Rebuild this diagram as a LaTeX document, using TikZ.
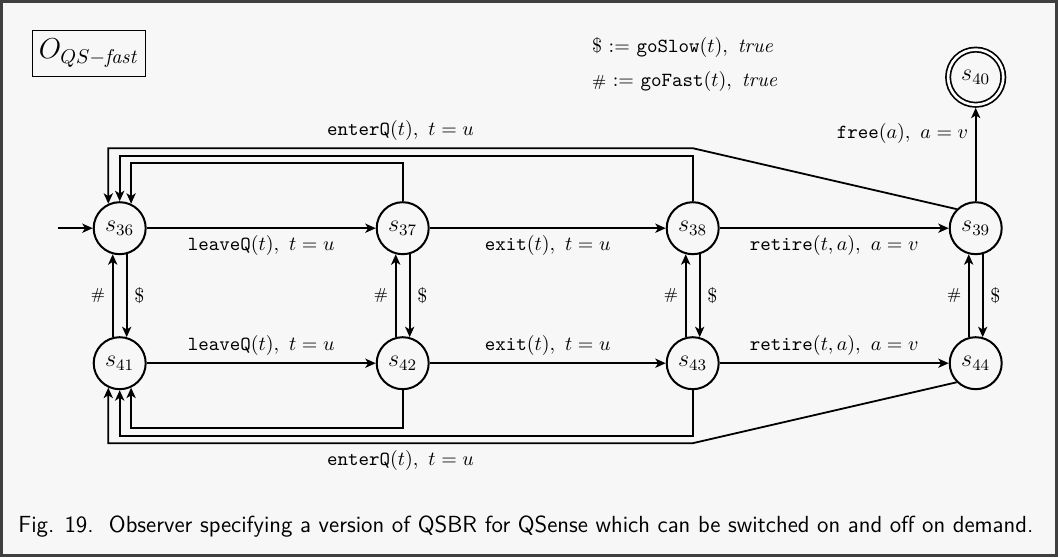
\documentclass[tikz,border=0pt]{standalone}
\usepackage{amsmath}
\usepackage{amssymb}
\usetikzlibrary{positioning,arrows.meta,calc}
\definecolor{paper}{HTML}{F7F7F7}
\definecolor{edgegray}{HTML}{3F3F3F}

\begin{document}
\begin{tikzpicture}[
    on grid,
    >={Stealth[length=5.2pt,width=4.6pt,inset=1.4pt]},
    state/.style={circle, draw, line width=1pt, minimum size=26pt, inner sep=0pt, font=\large},
    accepting/.style={line width=0.85pt, double, double distance=1.3pt, minimum size=27.6pt, outer sep=1.5pt},
    trans/.style={line width=0.9pt, ->},
  ]
      \useasboundingbox (-59.85pt,-164.4pt) rectangle (469.15pt,114.1pt);
      \draw [edgegray, fill=paper, line width=1.5pt] (-59.1pt,-163.65pt) rectangle (468.4pt,113.35pt);

        \node [state] (s36) {$s_{36}$};
        \node [state, right=141.5pt of s36] (s37) {$s_{37}$};
        \node [state, right=145pt of s37] (s38) {$s_{38}$};
        \node [state, right=141.5pt of s38] (s39) {$s_{39}$};
        \node [state, accepting, above=75.5pt of s39] (s40) {$s_{40}$};
        \node [state, below=67.5pt of s36] (s41) {$s_{41}$};
        \node [state, below=67.5pt of s37] (s42) {$s_{42}$};
        \node [state, below=67.5pt of s38] (s43) {$s_{43}$};
        \node [state, below=67.5pt of s39] (s44) {$s_{44}$};
        \coordinate [left=31pt of s36] (init);

        \node [draw, thin, minimum width=51pt, minimum height=23pt, above left=87.6pt and 15.35pt of s36] (title) {\Large$O_{QS-\mathit{fast}}$};
        \node [above right=90.1pt and 232.65pt of s36, anchor=west] (slow) {\$ $:=$ \texttt{goSlow}$(t),\ \mathit{true}$};
        \node [above right=73.35pt and 232.65pt of s36, anchor=west] (fast) {{\footnotesize\#} $:=$ \texttt{goFast}$(t),\ \mathit{true}$};

        \draw [trans] (init) -- (s36);
        \draw [trans] (s36) -- node [below] {\texttt{leaveQ}$(t),\ t = u$} (s37);
        \draw [trans] (s37) -- node [below] {\texttt{exit}$(t),\ t = u$} (s38);
        \draw [trans] (s38) -- node [below] {\texttt{retire}$(t, a),\ a = v$} (s39);
        \draw [trans] (s39) -- node [left, pos=0.72] {\texttt{free}$(a),\ a = v$} (s40);
        \draw [trans] (s41) -- node [above] {\texttt{leaveQ}$(t),\ t = u$} (s42);
        \draw [trans] (s42) -- node [above] {\texttt{exit}$(t),\ t = u$} (s43);
        \draw [trans] (s43) -- node [above] {\texttt{retire}$(t, a),\ a = v$} (s44);

        \foreach \up/\low in {s36/s41, s37/s42, s38/s43, s39/s44} {
          \draw [trans] (\low.105) -- node [left] {\footnotesize\#} (\up.255);
          \draw [trans] (\up.285) -- node [right] {\$} (\low.75);
        }

        \draw [trans] (s37.north) -- ++(0,19pt) -| (s36.65);
        \draw [trans] (s38.north) -- ++(0,22.8pt) -| (s36.north);
        \draw [trans] (s39.north west) -- ([yshift=40pt]s38.center) -| node [above, pos=0.25] {\texttt{enterQ}$(t),\ t = u$} (s36.115);
        \draw [trans] (s42.south) -- ++(0,-19pt) -| (s41.295);
        \draw [trans] (s43.south) -- ++(0,-22.8pt) -| (s41.south);
        \draw [trans] (s44.south west) -- ([yshift=-40pt]s43.center) -| node [below, pos=0.25] {\texttt{enterQ}$(t),\ t = u$} (s41.245);

        \node [below left=149.4pt and 50.85pt of s36, anchor=west, inner sep=0pt, font=\sffamily\fontsize{11.65}{13}\selectfont] (caption) {Fig. 19.\ \ Observer specifying a version of QSBR for QSense which can be switched on and off on demand.};
\end{tikzpicture}
\end{document}
